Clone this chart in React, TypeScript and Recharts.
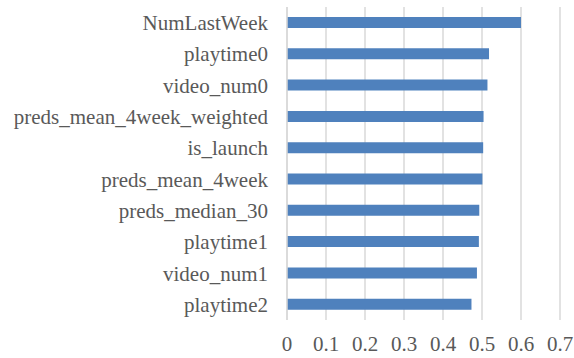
import { BarChart, Bar, XAxis, YAxis, CartesianGrid } from 'recharts';

const features = [
  'NumLastWeek',
  'playtime0',
  'video_num0',
  'preds_mean_4week_weighted',
  'is_launch',
  'preds_mean_4week',
  'preds_median_30',
  'playtime1',
  'video_num1',
  'playtime2',
];

const importance = [0.6, 0.518, 0.514, 0.504, 0.503, 0.501, 0.493, 0.492, 0.487, 0.473];

const xTicks = [0, 0.1, 0.2, 0.3, 0.4, 0.5, 0.6, 0.7];

const data = features.map((name, i) => ({ name, value: importance[i] }));

const serif = "'Liberation Serif', 'Times New Roman', serif";
const font = { fontSize: 21, fill: '#595959' };

export default function App() {
  return (
    <div style={{ position: 'absolute', left: 0, top: 0, fontFamily: serif }}>
      <BarChart
        width={574}
        height={358}
        data={data}
        layout="vertical"
        margin={{ top: 7, right: 14, bottom: 0, left: 0 }}
        style={{ fontFamily: serif }}
      >
        <CartesianGrid horizontal={false} stroke="#d9d9d9" strokeWidth={1.5} />
        <XAxis
          type="number"
          domain={[0, 0.7]}
          ticks={xTicks}
          tickFormatter={(v: number) => String(v)}
          axisLine={false}
          tickLine={false}
          tickSize={0}
          tickMargin={16}
          height={38}
          tick={font}
          interval={0}
        />
        <YAxis
          type="category"
          dataKey="name"
          width={287}
          axisLine={{ stroke: '#d9d9d9', strokeWidth: 1.5 }}
          tickLine={false}
          tickSize={0}
          tickMargin={19}
          tick={font}
          interval={0}
        />
        <Bar dataKey="value" fill="#4f81bd" barSize={11} isAnimationActive={false} />
      </BarChart>
    </div>
  );
}
